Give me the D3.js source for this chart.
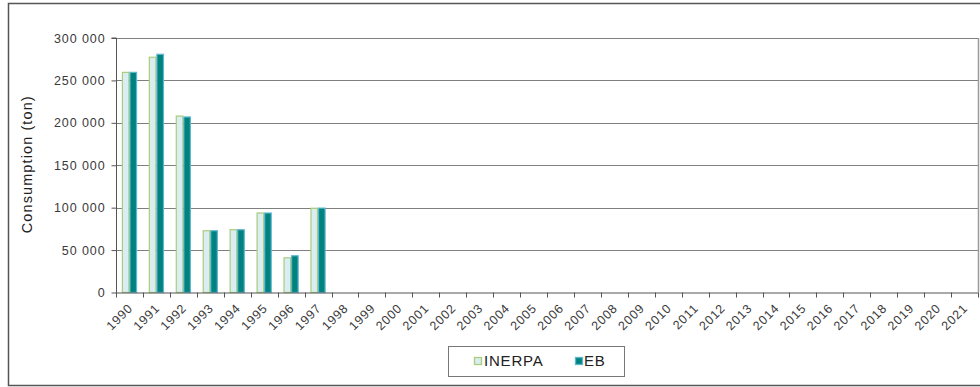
<!DOCTYPE html>
<html>
<head>
<meta charset="utf-8">
<script src="https://cdn.jsdelivr.net/npm/d3@7/dist/d3.min.js"></script>
<style>
html,body{margin:0;padding:0;background:#fff;}
svg{display:block;font-family:"Liberation Sans",Arial,sans-serif;}
</style>
</head>
<body>
<svg id="chart" width="980" height="387"></svg>
<script>
const years = ["1990","1991","1992","1993","1994","1995","1996","1997","1998","1999","2000","2001","2002","2003","2004","2005","2006","2007","2008","2009","2010","2011","2012","2013","2014","2015","2016","2017","2018","2019","2020","2021"];
const inerpa = [259500, 277300, 208000, 72800, 74000, 93700, 40900, 99300, null, null, null, null, null, null, null, null, null, null, null, null, null, null, null, null, null, null, null, null, null, null, null, null];
const eb = [259500, 280800, 206900, 72800, 74000, 93700, 43300, 99500, null, null, null, null, null, null, null, null, null, null, null, null, null, null, null, null, null, null, null, null, null, null, null, null];
const yTicks = [0, 50000, 100000, 150000, 200000, 250000, 300000];
const seriesNames = ["INERPA", "EB"];

const svg = d3.select("#chart");
const pLeft = 116, pRight = 978, pTop = 38, pBottom = 292.5;

// outer frame
svg.append("rect").attr("x", 8.5).attr("y", 3.5).attr("width", 990).attr("height", 382)
  .attr("fill", "none").attr("stroke", "#555").attr("stroke-width", 1.5);

const x = d3.scaleBand().domain(years).range([pLeft, pRight]).paddingInner(0).paddingOuter(0);
const y = d3.scaleLinear().domain([0, 300000]).range([pBottom, pTop]);
const xs = d3.scaleBand().domain(seriesNames).range([0, x.bandwidth()]).paddingInner(0).paddingOuter(0.78);

// gridlines
svg.append("g").selectAll("line").data(yTicks.filter(d => d > 0)).join("line")
  .attr("x1", pLeft).attr("x2", pRight)
  .attr("y1", d => Math.round(y(d)) + 0.5).attr("y2", d => Math.round(y(d)) + 0.5)
  .attr("stroke", "#7f7f7f").attr("stroke-width", 1);

// plot right border
svg.append("line").attr("x1", pRight + 0.5).attr("x2", pRight + 0.5).attr("y1", pTop).attr("y2", pBottom)
  .attr("stroke", "#9a9a9a").attr("stroke-width", 1.5);

// bars
const data = years.map((yr, i) => ({yr, vals: [inerpa[i], eb[i]]}));
const colors = {INERPA: {fill: "#d9edf3", stroke: "#a9cd7a"}, EB: {fill: "#00827f", stroke: "#5fb7cf"}};
const g = svg.append("g");
data.forEach(d => {
  seriesNames.forEach((s, j) => {
    const v = d.vals[j];
    if (v == null) return;
    g.append("rect")
      .attr("x", x(d.yr) + xs(s) + 0.5)
      .attr("y", y(v))
      .attr("width", xs.bandwidth() - 1)
      .attr("height", y(0) - y(v))
      .attr("fill", colors[s].fill)
      .attr("stroke", colors[s].stroke)
      .attr("stroke-width", 1.2);
  });
});

// y axis
const yAxis = d3.axisLeft(y).tickValues(yTicks).tickSize(5).tickPadding(6)
  .tickFormat(d => d3.format(",")(d).replace(/,/g, " "));
const ya = svg.append("g").attr("transform", `translate(${pLeft + 0.5},0)`).call(yAxis);
ya.select(".domain").attr("stroke", "#555").attr("d", `M-5,${pTop}H0V${pBottom + 5}`);
ya.selectAll(".tick line").attr("stroke", "#555");
ya.selectAll("text").attr("font-size", 12.5).attr("letter-spacing", "0.9px").attr("fill", "#3a3a3a");

// x axis
const xAxis = d3.axisBottom(x).tickValues(years).tickSize(0);
const xa = svg.append("g").attr("transform", `translate(0,${pBottom + 0.5})`).call(xAxis);
xa.select(".domain").attr("stroke", "#555").attr("d", `M${pLeft},0H${pRight}`);
// ticks at band boundaries
svg.append("g").selectAll("line").data(years).join("line")
  .attr("x1", d => Math.round(x(d) + x.bandwidth()) + 0.5)
  .attr("x2", d => Math.round(x(d) + x.bandwidth()) + 0.5)
  .attr("y1", pBottom).attr("y2", pBottom + 5)
  .attr("stroke", "#555");
xa.selectAll("text")
  .attr("font-size", 12.5).attr("letter-spacing", "0.8px").attr("fill", "#3a3a3a")
  .attr("text-anchor", "end")
  .attr("dy", 0)
  .attr("transform", `translate(4,16) rotate(-45)`)
  .attr("y", 0).attr("x", 0);

// axis title
svg.append("text")
  .attr("transform", `translate(32,${(pTop + pBottom) / 2 - 1}) rotate(-90)`)
  .attr("text-anchor", "middle")
  .attr("font-size", 14.5).attr("letter-spacing", "1.1px").attr("fill", "#222")
  .text("Consumption (ton)");

// legend
const lg = svg.append("g");
lg.append("rect").attr("x", 448.5).attr("y", 346.5).attr("width", 176).attr("height", 30)
  .attr("fill", "#fff").attr("stroke", "#777");
const legendItems = [{s: "INERPA", sx: 474, tx: 484}, {s: "EB", sx: 575, tx: 584}];
legendItems.forEach(it => {
  lg.append("rect").attr("x", it.sx + 0.5).attr("y", 357.5).attr("width", 7).attr("height", 7)
    .attr("fill", colors[it.s].fill).attr("stroke", colors[it.s].stroke).attr("stroke-width", 1.3);
  lg.append("text").attr("x", it.tx).attr("y", 366).attr("font-size", 15).attr("letter-spacing", "0.8px").attr("fill", "#222").text(it.s);
});
</script>
</body>
</html>
